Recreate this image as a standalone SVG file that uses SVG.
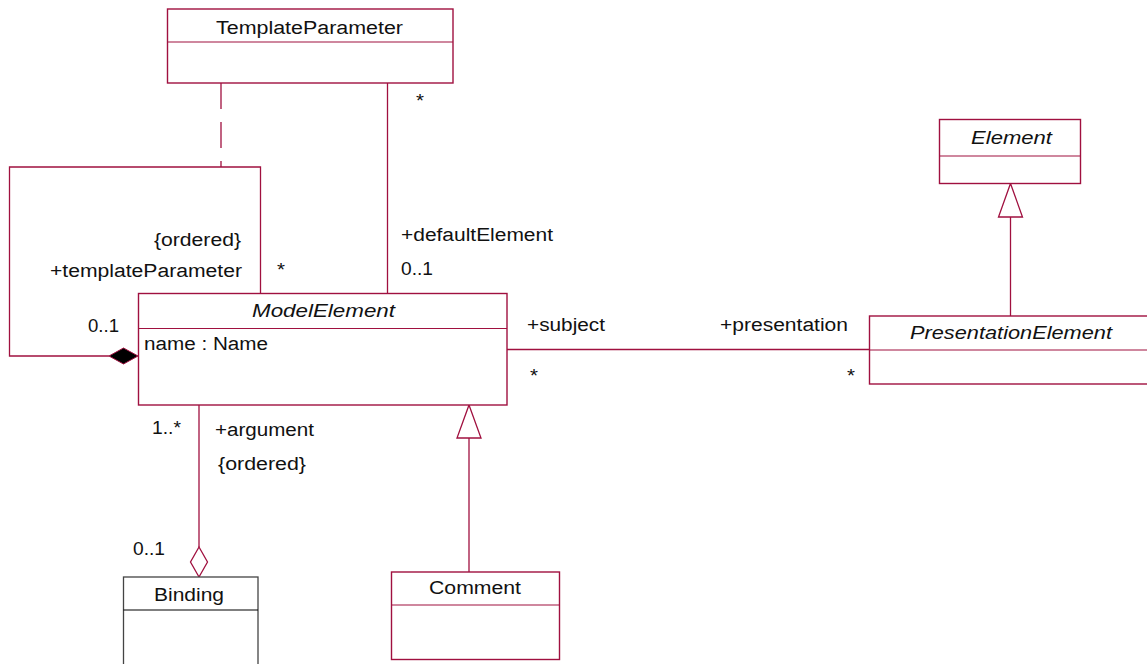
<svg xmlns="http://www.w3.org/2000/svg" width="1147" height="664" viewBox="0 0 1147 664">
  <style>
    .box { fill: #ffffff; stroke: #a0103f; stroke-width: 1.4; }
    .div { fill: none; stroke: #a0103f; stroke-width: 1.2; }
    .edge { fill: none; stroke: #a0103f; stroke-width: 1.3; }
    .gen { fill: #ffffff; stroke: #a0103f; stroke-width: 1.3; }
    text { font-family: "Liberation Sans", Arial, sans-serif; font-size: 18px; fill: #111111; }
    .it { font-style: italic; }
  </style>
  <rect width="1147" height="664" fill="#ffffff"/>

  <!-- connectors -->
  <g id="connectors">
    <!-- TemplateParameter dependency (dashed) -->
    <line class="edge" x1="221" y1="83" x2="221" y2="167" stroke-dasharray="26 13"/>
    <!-- templateParameter self-composition loop -->
    <polyline class="edge" points="260.5,293 260.5,167 9.5,167 9.5,356 109,356"/>
    <polygon points="109,356 123.5,348 138,356 123.5,364" fill="#000000" stroke="#a0103f" stroke-width="1"/>
    <!-- defaultElement association -->
    <line class="edge" x1="387.5" y1="83" x2="387.5" y2="293"/>
    <!-- subject / presentation association -->
    <line class="edge" x1="507" y1="349.5" x2="869" y2="349.5"/>
    <!-- argument aggregation to Binding -->
    <line class="edge" x1="199" y1="405" x2="199" y2="547"/>
    <polygon class="gen" points="199,547 207.5,562 199,577 190.5,562"/>
    <!-- Comment generalizes ModelElement -->
    <line class="edge" x1="469" y1="438" x2="469" y2="572"/>
    <polygon class="gen" points="469,405 481,438 457,438"/>
    <!-- PresentationElement generalizes Element -->
    <line class="edge" x1="1010.5" y1="217" x2="1010.5" y2="316"/>
    <polygon class="gen" points="1010.5,183.5 1022.5,217 998.5,217"/>

    <!-- role names and multiplicities -->
    <text x="416" y="107" textLength="8" lengthAdjust="spacingAndGlyphs">*</text>
    <text x="401" y="241" textLength="152" lengthAdjust="spacingAndGlyphs">+defaultElement</text>
    <text x="401" y="275" textLength="32" lengthAdjust="spacingAndGlyphs">0..1</text>
    <text x="154" y="246" textLength="87" lengthAdjust="spacingAndGlyphs">{ordered}</text>
    <text x="50" y="277" textLength="192" lengthAdjust="spacingAndGlyphs">+templateParameter</text>
    <text x="277" y="276" textLength="8" lengthAdjust="spacingAndGlyphs">*</text>
    <text x="88" y="332" textLength="31" lengthAdjust="spacingAndGlyphs">0..1</text>
    <text x="527" y="331" textLength="78" lengthAdjust="spacingAndGlyphs">+subject</text>
    <text x="720" y="331" textLength="128" lengthAdjust="spacingAndGlyphs">+presentation</text>
    <text x="530" y="382" textLength="8" lengthAdjust="spacingAndGlyphs">*</text>
    <text x="847" y="382" textLength="8" lengthAdjust="spacingAndGlyphs">*</text>
    <text x="152" y="434" textLength="29" lengthAdjust="spacingAndGlyphs">1..*</text>
    <text x="215" y="436" textLength="99" lengthAdjust="spacingAndGlyphs">+argument</text>
    <text x="218" y="470" textLength="88" lengthAdjust="spacingAndGlyphs">{ordered}</text>
    <text x="133" y="555" textLength="32" lengthAdjust="spacingAndGlyphs">0..1</text>
  </g>

  <g id="TemplateParameter">
    <rect class="box" x="167.5" y="9" width="285.5" height="74"/>
    <line class="div" x1="167.5" y1="42" x2="453" y2="42"/>
    <text x="216" y="34" textLength="187" lengthAdjust="spacingAndGlyphs">TemplateParameter</text>
  </g>

  <g id="ModelElement">
    <rect class="box" x="138.5" y="293.5" width="368.5" height="111.5"/>
    <line class="div" x1="138.5" y1="328.5" x2="507" y2="328.5"/>
    <text class="it" x="252" y="317" textLength="143" lengthAdjust="spacingAndGlyphs">ModelElement</text>
    <text x="144" y="350" textLength="124" lengthAdjust="spacingAndGlyphs">name : Name</text>
  </g>

  <g id="Element">
    <rect class="box" x="939.5" y="119.5" width="141" height="64"/>
    <line class="div" x1="939.5" y1="156" x2="1080.5" y2="156"/>
    <text class="it" x="971" y="144" textLength="81" lengthAdjust="spacingAndGlyphs">Element</text>
  </g>

  <g id="PresentationElement">
    <rect class="box" x="869.5" y="316" width="300" height="68"/>
    <line class="div" x1="869.5" y1="350" x2="1147" y2="350"/>
    <text class="it" x="910" y="339" textLength="202" lengthAdjust="spacingAndGlyphs">PresentationElement</text>
  </g>

  <g id="Binding">
    <rect x="123.5" y="577" width="134.5" height="100" fill="#ffffff" stroke="#444444" stroke-width="1.3"/>
    <line x1="123.5" y1="610" x2="258" y2="610" stroke="#000000" stroke-width="1.2"/>
    <text x="154" y="601" textLength="70" lengthAdjust="spacingAndGlyphs">Binding</text>
  </g>

  <g id="Comment">
    <rect class="box" x="391.5" y="572" width="168" height="87.5"/>
    <line class="div" x1="391.5" y1="605" x2="559.5" y2="605"/>
    <text x="429" y="594" textLength="92" lengthAdjust="spacingAndGlyphs">Comment</text>
  </g>
</svg>
